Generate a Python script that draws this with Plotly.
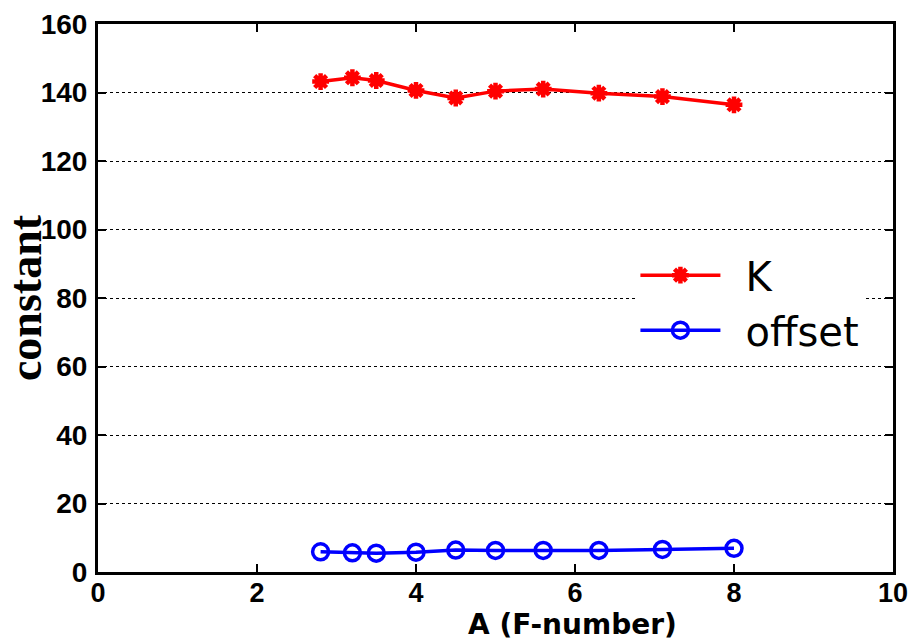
import plotly.graph_objects as go

f_number = [2.8, 3.2, 3.5, 4.0, 4.5, 5.0, 5.6, 6.3, 7.1, 8.0]
k_values = [143.2, 144.3, 143.5, 140.6, 138.4, 140.4, 141.0, 139.8, 138.8, 136.4]
offset_values = [5.9, 5.6, 5.5, 5.8, 6.4, 6.3, 6.3, 6.3, 6.6, 6.9]

fig = go.Figure()
fig.add_trace(go.Scatter(
    x=f_number, y=k_values, name="\u2002K", mode="lines+markers",
    line=dict(color="#ff0000", width=3.5),
    marker=dict(symbol="asterisk-open", size=14, color="#ff0000",
                line=dict(color="#ff0000", width=4.5)),
))
fig.add_trace(go.Scatter(
    x=f_number, y=offset_values, name="\u2002offset", mode="lines+markers",
    line=dict(color="#0000ff", width=3.5),
    marker=dict(symbol="circle-open", size=16, color="#0000ff",
                line=dict(color="#0000ff", width=3.5)),
))

tickfont = dict(family="Liberation Sans, Arial", size=28, color="black", weight="bold")
xtickfont = dict(family="Liberation Sans, Arial", size=27, color="black", weight="bold")

fig.update_layout(
    width=915, height=643,
    margin=dict(l=98, r=22, t=24, b=71),
    paper_bgcolor="white", plot_bgcolor="white",
    showlegend=True,
    legend=dict(x=0.676, y=0.601, xanchor="left", yanchor="top",
                bgcolor="rgba(255,255,255,1)", borderwidth=0,
                font=dict(family="DejaVu Sans", size=40, color="black"),
                itemwidth=80),
    xaxis=dict(range=[0, 10], tickvals=[0, 2, 4, 6, 8, 10],
               showgrid=False, zeroline=False, automargin=False,
               showline=True, linecolor="black", linewidth=3, mirror="ticks",
               ticks="inside", ticklen=8, tickwidth=2, tickcolor="black",
               tickfont=xtickfont, ticklabelstandoff=-5),
    yaxis=dict(range=[0, 160], tickvals=[0, 20, 40, 60, 80, 100, 120, 140, 160],
               showgrid=True, gridcolor="black", griddash="dot", gridwidth=1,
               zeroline=False, automargin=False,
               showline=True, linecolor="black", linewidth=3, mirror="ticks",
               ticks="inside", ticklen=8, tickwidth=2, tickcolor="black",
               tickfont=tickfont, ticklabelstandoff=2,
               title=dict(text="constant", standoff=4,
                          font=dict(family="Liberation Serif, Times New Roman", size=46,
                                    color="black", weight="bold"))),
    annotations=[dict(text="A (F-number)", x=0.597, y=-0.096, xref="paper", yref="paper",
                      xanchor="center", yanchor="middle", showarrow=False,
                      font=dict(family="DejaVu Sans", size=28, color="black",
                                weight="bold"))],
)

fig.write_html("out.html")
